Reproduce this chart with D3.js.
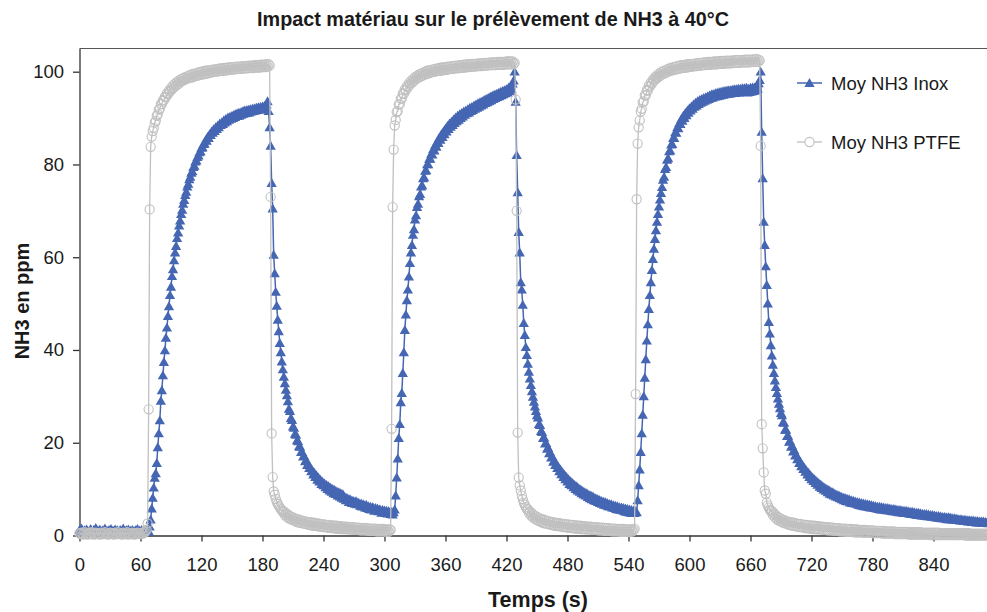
<!DOCTYPE html>
<html><head><meta charset="utf-8">
<script src="https://cdn.jsdelivr.net/npm/d3@7"></script>
<style>body{margin:0;background:#fff}svg{display:block}text{font-family:"Liberation Sans",Arial,sans-serif}</style>
</head><body><svg id="c" width="987" height="612"></svg>
<script>
const chartTitle = "Impact matériau sur le prélèvement de NH3 à 40°C";
const xLabel = "Temps (s)";
const yLabel = "NH3 en ppm";
const seriesNames = ["Moy NH3 Inox", "Moy NH3 PTFE"];
const xTickValues = [0,60,120,180,240,300,360,420,480,540,600,660,720,780,840];
const yTickValues = [0,20,40,60,80,100];
const sampleStep = 1; // seconds between samples

const inox = [
1.2,0.8,1.5,0.9,0.6,1.1,0.7,1.3,0.9,0.5,
1.0,1.4,0.8,0.6,1.2,0.9,1.6,0.7,1.0,0.8,
1.3,0.6,0.9,1.1,0.7,1.5,0.8,1.0,0.6,1.2,
0.9,1.4,0.7,1.0,0.8,1.3,0.6,1.1,0.9,0.7,
1.2,0.8,1.0,1.5,0.7,0.9,1.1,0.6,1.3,0.8,
1.0,0.7,1.2,0.9,0.6,1.1,0.8,1.4,0.7,1.0,
0.8,1.2,0.6,0.9,1.1,0.7,1.0,0.8,0.9,1.9,
3.4,5.8,8.1,10.3,12.4,13.4,15.6,19.0,22.0,24.8,
29.0,31.3,34.5,37.4,39.9,42.6,44.8,47.3,49.4,51.8,
53.6,55.9,57.4,59.3,61.0,62.4,64.1,65.3,66.8,67.9,
69.3,70.2,71.5,72.3,73.4,74.1,75.2,75.8,76.8,77.3,
78.2,78.5,79.4,79.7,80.6,80.8,81.6,81.9,82.6,82.8,
83.6,83.7,84.4,84.5,85.2,85.1,85.9,85.7,86.5,86.3,
87.1,86.8,87.6,87.2,88.0,87.6,88.4,88.0,88.8,88.5,
89.1,88.7,89.5,89.0,89.8,89.3,90.1,89.6,90.3,89.8,
90.5,90.0,90.7,90.2,90.9,90.4,91.1,90.5,91.2,90.7,
91.4,90.9,91.6,91.0,91.7,91.1,91.8,91.2,91.9,91.4,
92.0,91.5,92.1,91.6,92.2,91.7,92.3,91.8,92.4,91.9,
92.5,92.0,92.6,92.2,92.9,93.6,91.5,88.0,84.0,76.0,
70.5,60.5,56.5,52.5,49.5,46.5,44.0,41.5,39.5,37.5,
35.8,34.2,32.8,31.4,30.2,28.9,27.3,26.8,25.3,24.9,
23.5,23.2,21.9,21.7,20.5,20.3,19.2,19.1,18.0,18.0,
17.0,17.1,16.0,16.2,15.2,15.4,14.5,14.7,13.8,14.0,
13.1,13.5,12.6,13.0,12.0,12.5,11.6,12.0,11.1,11.6,
10.8,11.2,10.4,10.9,10.0,10.6,9.7,10.3,9.4,10.0,
9.1,9.8,8.9,9.5,8.6,9.3,8.4,9.1,8.1,8.9,
7.9,8.3,7.6,8.1,7.9,7.2,7.8,7.6,7.0,7.5,
7.3,6.8,7.4,6.7,7.1,6.9,6.4,6.9,6.2,6.7,
6.5,6.0,6.6,5.9,6.3,5.7,6.2,5.6,6.1,5.9,
5.3,5.9,5.4,5.8,5.2,5.6,5.5,4.9,5.5,5.0,
5.4,4.8,5.3,4.7,5.2,4.9,4.6,5.1,4.5,5.0,
5.6,8.6,12.5,16.6,21.0,24.0,28.7,30.7,35.0,39.5,
44.3,47.6,50.7,53.0,55.8,58.7,61.0,62.6,64.8,66.0,
68.1,69.0,70.8,71.5,73.1,73.6,75.2,75.5,77.0,77.2,
78.6,78.7,80.0,80.0,81.2,81.2,82.3,82.1,83.3,83.0,
84.2,83.8,85.0,84.6,85.8,85.3,86.5,85.9,87.1,86.5,
87.7,87.1,88.3,87.6,88.8,88.1,89.2,88.5,89.7,88.9,
90.1,89.3,90.5,89.6,90.8,90.0,91.1,90.3,91.4,90.7,
91.6,91.0,91.9,91.2,92.2,91.5,92.4,91.7,92.7,92.0,
92.9,92.2,93.2,92.4,93.4,92.7,93.6,92.9,93.9,93.2,
94.1,93.4,94.3,93.6,94.6,93.8,94.8,94.1,95.0,94.3,
95.2,94.5,95.4,94.7,95.6,94.9,95.8,95.1,96.0,95.3,
96.2,95.5,96.5,95.8,96.8,96.2,97.4,98.1,100.0,93.5,
82.0,74.0,65.4,61.0,54.6,53.0,49.7,45.8,43.2,40.6,
38.9,37.0,35.3,33.8,32.4,31.1,29.9,28.8,27.8,26.8,
25.9,25.4,24.0,23.8,22.5,22.3,21.0,21.1,19.8,19.9,
18.7,18.9,17.7,17.9,16.8,17.0,15.9,16.2,15.2,15.4,
14.5,14.8,13.8,14.2,13.2,13.6,12.6,13.1,12.1,12.6,
11.6,12.1,11.1,11.7,10.8,11.3,10.4,10.9,10.0,10.6,
9.7,10.2,9.4,9.9,9.1,9.6,8.8,9.3,8.6,9.1,
8.3,8.8,8.0,8.6,7.8,8.4,7.6,8.1,7.4,7.9,
7.2,7.7,7.0,7.5,6.8,7.3,6.6,7.2,6.5,7.0,
6.3,6.8,6.2,6.7,6.0,6.5,5.9,6.4,5.7,6.3,
5.6,6.1,5.5,6.0,5.4,5.9,5.2,5.8,5.1,5.7,
5.0,5.6,4.9,5.5,4.8,5.4,4.8,5.2,5.0,7.6,
10.8,14.2,18.0,22.0,26.0,30.0,34.0,38.0,42.0,45.5,
48.8,51.8,54.6,57.2,59.6,61.8,63.9,65.8,67.6,69.3,
70.9,72.4,73.8,75.1,76.7,77.3,79.0,79.4,81.0,81.3,
82.8,83.0,84.3,84.4,85.7,85.7,86.9,86.8,88.0,87.8,
88.9,88.7,89.8,89.4,90.5,90.0,91.1,90.6,91.6,91.1,
92.1,91.6,92.5,92.0,92.9,92.4,93.3,92.7,93.6,93.0,
93.9,93.3,94.1,93.5,94.3,93.7,94.5,93.9,94.7,94.1,
94.9,94.3,95.1,94.4,95.2,94.6,95.4,94.7,95.5,94.8,
95.6,94.9,95.7,95.0,95.8,95.1,95.9,95.2,96.0,95.2,
96.0,95.3,96.1,95.4,96.2,95.4,96.2,95.5,96.3,95.5,
96.3,95.6,96.4,95.6,96.4,95.7,96.5,95.5,96.3,95.6,
96.5,95.7,96.6,95.8,96.6,95.9,96.8,96.3,97.5,98.2,
100.0,87.0,77.0,67.6,62.6,58.0,54.0,50.0,46.0,43.5,
41.0,38.8,36.8,35.0,33.4,32.0,30.7,29.5,28.4,27.4,
26.4,25.9,24.4,24.3,22.8,22.8,21.4,21.5,20.2,20.3,
19.1,19.3,18.1,18.4,17.2,17.4,16.4,16.6,15.6,15.9,
14.9,15.2,14.3,14.6,13.7,14.0,13.1,13.5,12.6,13.0,
12.1,12.5,11.7,12.1,11.3,11.7,10.9,11.3,10.5,11.0,
10.2,10.6,9.9,10.3,9.6,10.0,9.3,9.8,9.0,9.5,
8.8,9.3,8.6,9.0,8.4,8.8,8.2,8.6,8.0,8.4,
7.8,8.2,7.6,8.1,7.4,7.9,7.3,7.8,7.1,7.6,
7.0,7.5,6.9,7.3,6.8,7.2,6.6,7.1,6.5,7.0,
6.4,6.9,6.3,6.8,6.2,6.7,6.1,6.6,6.0,6.5,
6.0,6.4,5.9,6.3,5.8,6.2,5.7,6.2,5.6,6.1,
5.6,6.0,5.5,5.9,5.4,5.9,5.4,5.8,5.3,5.7,
5.2,5.7,5.2,5.6,5.1,5.5,5.0,5.5,5.0,5.4,
4.9,5.3,4.8,5.3,4.8,5.2,4.7,5.1,4.6,5.1,
4.6,5.0,4.5,4.9,4.4,4.9,4.4,4.8,4.3,4.7,
4.3,4.6,4.2,4.6,4.1,4.5,4.1,4.4,4.0,4.4,
4.0,4.3,3.9,4.2,3.8,4.2,3.8,4.1,3.7,4.0,
3.7,4.0,3.6,3.9,3.5,3.9,3.5,3.8,3.4,3.7,
3.4,3.7,3.3,3.6,3.3,3.5,3.2,3.5,3.2,3.4,
3.1,3.4,3.1,3.3,3.0,3.3,3.0,3.2,2.9,3.2,
2.9,3.1,2.8,3.1,2.8,3.0,2.8,3.0,2.7,3.0,
2.7,2.9,2.7,2.9,2.6,2.9
];

const ptfe = [
0.5,0.3,0.6,0.2,0.4,0.7,0.3,0.5,0.2,0.6,
0.4,0.3,0.7,0.5,0.2,0.4,0.6,0.3,0.5,0.4,
0.2,0.6,0.4,0.3,0.5,0.7,0.3,0.4,0.2,0.5,
0.6,0.3,0.4,0.5,0.2,0.6,0.4,0.3,0.7,0.4,
0.3,0.5,0.2,0.6,0.4,0.3,0.5,0.7,0.2,0.4,
0.5,0.3,0.6,0.4,0.2,0.5,0.3,0.6,0.4,0.5,
0.3,0.6,0.4,0.5,0.7,0.9,1.2,2.6,27.2,70.3,
83.8,86.0,87.2,87.9,89.0,89.4,90.5,90.8,91.8,92.0,
93.0,93.0,93.8,93.8,94.6,94.5,95.3,95.1,95.9,95.7,
96.5,96.2,97.0,96.6,97.4,97.0,97.8,97.3,98.1,97.7,
98.4,98.0,98.6,98.2,98.8,98.4,99.0,98.6,99.2,98.7,
99.4,98.8,99.5,99.0,99.6,99.1,99.8,99.2,99.9,99.3,
100.0,99.4,100.1,99.5,100.2,99.6,100.3,99.7,100.3,99.8,
100.4,99.9,100.5,100.0,100.5,100.0,100.6,100.1,100.7,100.2,
100.7,100.2,100.8,100.3,100.8,100.3,100.9,100.4,100.9,100.4,
101.0,100.5,101.0,100.5,101.1,100.6,101.1,100.6,101.1,100.6,
101.2,100.7,101.2,100.7,101.2,100.7,101.3,100.8,101.3,100.8,
101.3,100.8,101.4,100.9,101.4,100.9,101.4,100.9,101.5,101.0,
101.5,101.0,101.5,101.0,101.6,101.1,101.6,101.3,73.0,22.0,
12.6,9.5,8.8,7.9,7.3,6.8,6.4,6.0,5.7,5.4,
5.1,5.2,4.4,4.8,4.0,4.5,3.7,4.2,3.5,4.0,
3.3,3.8,3.1,3.6,2.9,3.5,2.8,3.3,2.7,3.2,
2.6,3.1,2.5,3.0,2.4,2.9,2.3,2.8,2.2,2.8,
2.1,2.7,2.1,2.6,2.0,2.6,1.9,2.5,1.9,2.4,
1.8,2.4,1.8,2.3,1.7,2.3,1.7,2.2,1.6,2.2,
1.6,2.1,1.5,2.1,1.5,2.0,1.5,2.0,1.4,1.9,
1.4,1.9,1.4,1.9,1.3,1.8,1.3,1.8,1.3,1.8,
1.2,1.7,1.2,1.7,1.2,1.7,1.1,1.6,1.1,1.6,
1.1,1.6,1.1,1.6,1.0,1.5,1.0,1.5,1.0,1.5,
1.0,1.5,0.9,1.4,0.9,1.4,0.9,1.4,0.9,1.4,
0.9,1.3,0.8,1.3,0.8,1.3,1.2,23.0,70.8,83.2,
88.4,89.6,91.3,91.5,92.9,93.0,94.2,94.2,95.3,95.2,
96.2,96.0,96.9,96.6,97.5,97.2,98.0,97.6,98.4,98.0,
98.8,98.4,99.1,98.7,99.4,98.9,99.6,99.1,99.8,99.3,
100.0,99.5,100.2,99.6,100.3,99.8,100.4,99.9,100.5,100.0,
100.6,100.1,100.7,100.2,100.8,100.2,100.9,100.3,100.9,100.4,
101.0,100.4,101.1,100.5,101.1,100.6,101.2,100.6,101.2,100.7,
101.3,100.7,101.3,100.8,101.4,100.8,101.4,100.9,101.5,100.9,
101.5,101.0,101.6,101.0,101.6,101.1,101.7,101.1,101.7,101.1,
101.7,101.2,101.8,101.2,101.8,101.2,101.8,101.3,101.9,101.3,
101.9,101.3,101.9,101.4,102.0,101.4,102.0,101.4,102.0,101.4,
102.0,101.5,102.1,101.5,102.1,101.5,102.1,101.5,102.1,101.6,
102.2,101.6,102.2,101.6,102.2,101.6,102.2,101.7,101.9,94.0,
70.0,22.2,12.5,10.8,9.7,8.6,7.8,7.1,6.6,6.1,
5.7,5.7,4.9,5.2,4.3,4.8,3.9,4.4,3.6,4.1,
3.3,3.9,3.1,3.7,2.9,3.5,2.7,3.4,2.6,3.2,
2.5,3.1,2.4,3.0,2.3,2.9,2.2,2.8,2.1,2.7,
2.0,2.7,2.0,2.6,1.9,2.5,1.8,2.5,1.8,2.4,
1.7,2.4,1.7,2.3,1.6,2.3,1.6,2.2,1.5,2.2,
1.5,2.1,1.5,2.1,1.4,2.0,1.4,2.0,1.3,1.9,
1.3,1.9,1.3,1.9,1.2,1.8,1.2,1.8,1.2,1.8,
1.1,1.7,1.1,1.7,1.1,1.7,1.0,1.6,1.0,1.6,
1.0,1.6,1.0,1.5,0.9,1.5,0.9,1.5,0.9,1.4,
0.9,1.4,0.8,1.4,0.8,1.4,0.8,1.3,0.8,1.3,
0.8,1.3,0.8,1.3,0.9,1.2,1.5,30.5,72.5,84.5,
88.0,89.5,91.4,92.0,93.4,93.6,94.9,94.9,96.0,95.9,
97.0,96.8,97.7,97.4,98.3,98.0,98.8,98.4,99.2,98.8,
99.6,99.1,99.9,99.4,100.1,99.6,100.3,99.8,100.5,100.0,
100.7,100.2,100.8,100.3,101.0,100.4,101.1,100.5,101.2,100.6,
101.3,100.7,101.4,100.8,101.4,100.9,101.5,100.9,101.6,101.0,
101.6,101.1,101.7,101.1,101.7,101.2,101.8,101.2,101.8,101.3,
101.9,101.3,101.9,101.4,102.0,101.4,102.0,101.5,102.1,101.5,
102.1,101.5,102.1,101.6,102.2,101.6,102.2,101.6,102.2,101.7,
102.3,101.7,102.3,101.7,102.3,101.8,102.4,101.8,102.4,101.8,
102.4,101.8,102.4,101.9,102.5,101.9,102.5,101.9,102.5,101.9,
102.5,102.0,102.5,102.0,102.6,102.0,102.6,102.0,102.6,102.0,
102.6,102.1,102.6,102.1,102.7,102.1,102.7,102.1,102.6,102.4,
84.0,24.0,18.8,13.6,9.7,9.0,7.1,6.5,6.0,5.6,
5.2,5.3,4.4,4.8,3.9,4.4,3.5,4.0,3.2,3.7,
3.0,3.5,2.8,3.3,2.6,3.1,2.5,3.0,2.3,2.9,
2.2,2.8,2.1,2.7,2.0,2.6,1.9,2.5,1.8,2.5,
1.8,2.4,1.7,2.3,1.6,2.3,1.6,2.2,1.5,2.2,
1.5,2.1,1.4,2.1,1.4,2.0,1.3,2.0,1.3,1.9,
1.3,1.9,1.2,1.8,1.2,1.8,1.1,1.8,1.1,1.7,
1.1,1.7,1.0,1.6,1.0,1.6,1.0,1.6,0.9,1.5,
0.9,1.5,0.9,1.5,0.8,1.4,0.8,1.4,0.8,1.4,
0.8,1.3,0.7,1.3,0.7,1.3,0.7,1.2,0.7,1.2,
0.6,1.2,0.6,1.2,0.6,1.1,0.6,1.1,0.6,1.1,
0.5,1.1,0.5,1.0,0.5,1.0,0.5,1.0,0.5,1.0,
0.4,1.0,0.4,0.9,0.4,0.9,0.4,0.9,0.4,0.9,
0.4,0.9,0.3,0.8,0.3,0.8,0.3,0.8,0.3,0.8,
0.3,0.8,0.3,0.8,0.3,0.7,0.2,0.7,0.2,0.7,
0.2,0.7,0.2,0.7,0.2,0.7,0.2,0.7,0.2,0.6,
0.2,0.6,0.2,0.6,0.2,0.6,0.2,0.6,0.1,0.6,
0.1,0.6,0.1,0.6,0.1,0.6,0.1,0.5,0.1,0.5,
0.1,0.5,0.1,0.5,0.1,0.5,0.1,0.5,0.1,0.5,
0.1,0.5,0.1,0.5,0.1,0.5,0.1,0.5,0.1,0.5,
0.1,0.5,0.0,0.5,0.0,0.5,0.0,0.4,0.0,0.4,
0.0,0.4,0.0,0.4,0.0,0.4,0.0,0.4,0.0,0.4,
0.0,0.4,0.0,0.4,0.0,0.4
];

const times = d3.range(inox.length).map(i => i * sampleStep);
const colInox = "#4566b3", colPtfe = "#c0c0c0";

const svg = d3.select("#c");
const x = d3.scaleLinear().domain([0, 900]).range([79.5, 994.5]);
const y = d3.scaleLinear().domain([0, 105]).range([535.5, 48.5]);

// top border
svg.append("line").attr("x1", 79.5).attr("x2", 994.5).attr("y1", 48.5).attr("y2", 48.5)
  .attr("stroke", "#555").attr("stroke-width", 1);

const fs = 18.5;
const gx = svg.append("g").attr("transform", "translate(0,535.5)")
  .call(d3.axisBottom(x).tickValues(xTickValues).tickSize(6).tickSizeOuter(0).tickPadding(16));
gx.selectAll("text").attr("font-size", fs).attr("font-family", '"Liberation Sans",Arial,sans-serif').attr("fill", "#1a1a1a");
gx.selectAll("line,path").attr("stroke", "#333").attr("stroke-width", 1.3);

const gy = svg.append("g").attr("transform", "translate(79.5,0)")
  .call(d3.axisLeft(y).tickValues(yTickValues).tickSize(6.5).tickSizeOuter(0).tickPadding(9));
gy.selectAll("text").attr("font-size", fs).attr("font-family", '"Liberation Sans",Arial,sans-serif').attr("fill", "#1a1a1a");
gy.selectAll("line,path").attr("stroke", "#333").attr("stroke-width", 1.3);

const line = d3.line().x((d, i) => x(times[i])).y(d => y(d));
const tri = d3.symbol().type(d3.symbolTriangle).size(46);

// Inox
svg.append("path").datum(inox).attr("d", line).attr("fill", "none")
  .attr("stroke", colInox).attr("stroke-width", 1.5);
svg.append("g").selectAll("path").data(inox).join("path")
  .attr("d", tri).attr("transform", (d, i) => `translate(${x(times[i])},${y(d) + 0.9})`)
  .attr("fill", colInox);

// PTFE
svg.append("path").datum(ptfe).attr("d", line).attr("fill", "none")
  .attr("stroke", colPtfe).attr("stroke-width", 1.3);
svg.append("g").selectAll("circle").data(ptfe).join("circle")
  .attr("cx", (d, i) => x(times[i])).attr("cy", d => y(d)).attr("r", 4.6)
  .attr("fill", "none").attr("stroke", colPtfe).attr("stroke-width", 1.1);

// Legend
const leg = svg.append("g");
[[83, colInox, "tri"], [142, colPtfe, "circ"]].forEach(([ly, c, m], k) => {
  leg.append("line").attr("x1", 797).attr("x2", 822).attr("y1", ly).attr("y2", ly)
    .attr("stroke", c).attr("stroke-width", k === 0 ? 1.5 : 1.3);
  if (m === "tri") leg.append("path").attr("d", tri).attr("transform", `translate(809.5,${ly + 0.9})`).attr("fill", c);
  else leg.append("circle").attr("cx", 809.5).attr("cy", ly).attr("r", 4.6).attr("fill", "#fff").attr("stroke", c).attr("stroke-width", 1.1);
  leg.append("text").attr("x", 831).attr("y", ly).attr("dy", "0.36em")
    .attr("font-size", fs).attr("fill", "#1a1a1a").text(seriesNames[k]);
});

// Titles
svg.append("text").attr("x", 493).attr("y", 26).attr("text-anchor", "middle")
  .attr("font-size", 19.8).attr("font-weight", "bold").attr("fill", "#1a1a1a").text(chartTitle);
svg.append("text").attr("x", 538).attr("y", 607).attr("text-anchor", "middle")
  .attr("font-size", 21.5).attr("font-weight", "bold").attr("fill", "#1a1a1a").text(xLabel);
svg.append("text").attr("transform", "translate(29,301) rotate(-90)").attr("text-anchor", "middle")
  .attr("font-size", 20).attr("font-weight", "bold").attr("fill", "#1a1a1a").text(yLabel);
</script></body></html>
